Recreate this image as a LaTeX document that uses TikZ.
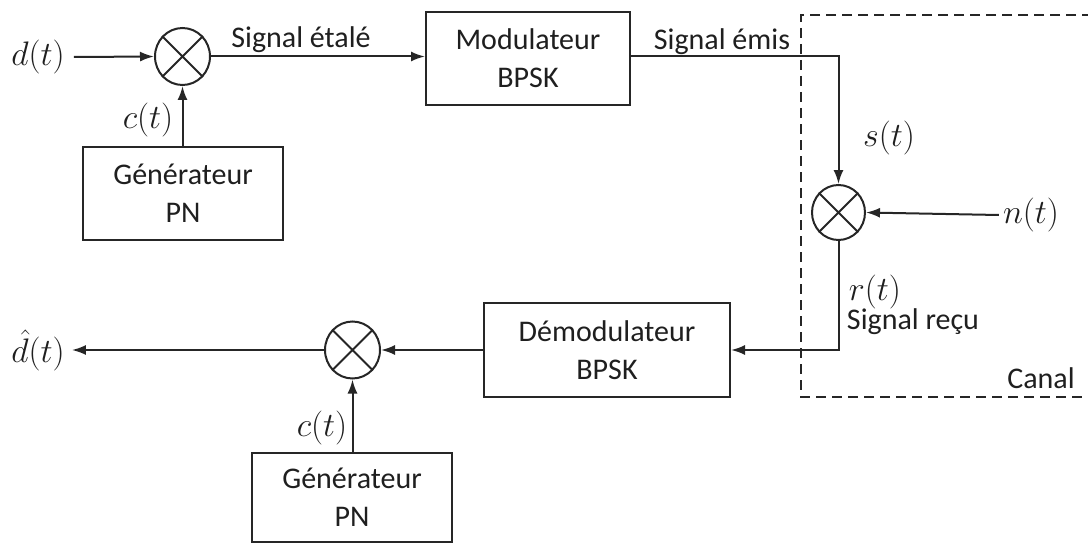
\RequirePackage{fix-cm}
\documentclass[tikz,border=0pt]{standalone}
\usepackage{fontspec}
\setmainfont{Carlito}
\usetikzlibrary{arrows.meta,shapes.geometric}
\begin{document}
\begin{tikzpicture}[x=1pt,y=-1pt,
  every node/.style={font=\fontsize{30}{38}\selectfont, text=black!88},
  wire/.style={line width=2pt, draw=black!85},
  arr/.style={wire, -{Latex[length=14pt,width=10pt]}},
  blk/.style={draw=black!85, line width=2pt, rectangle, inner sep=0pt, align=center},
  mix/.style={draw=black!85, line width=2pt, ellipse, inner sep=0pt, minimum width=55pt, minimum height=57pt},
  lbl/.style={inner sep=0pt},
  mlbl/.style={inner sep=0pt, font=\fontsize{34}{40}\selectfont},
  canal/.style={line width=2pt, draw=black!85, dash pattern=on 10pt off 6pt}
]
\useasboundingbox (0,0) rectangle (1088,543);

% mixers
\node[mix] (m1) at (182.5,56.5) {};
\node[mix, minimum width=53pt, minimum height=55pt] (m2) at (838.5,212.5) {};
\node[mix] (m3) at (352.5,350) {};
\foreach \m in {m1,m2,m3}{
  \draw[line width=1.8pt, draw=black!85] (\m.45) -- (\m.225) (\m.135) -- (\m.315);
}

% blocks
\node[blk, minimum width=204pt, minimum height=93pt] (mod) at (528,58.5) {Modulateur\\BPSK};
\node[blk, minimum width=200pt, minimum height=93pt] (gen1) at (183,193.5) {Générateur\\PN};
\node[blk, minimum width=246pt, minimum height=94pt] (dem) at (607,350) {Démodulateur\\BPSK};
\node[blk, minimum width=200pt, minimum height=89pt] (gen2) at (352,497.5) {Générateur\\PN};

% signal labels
\node[mlbl] (din) at (38,57) {$d(t)$};
\node[mlbl] (dhat) at (38,350) {$\hat{d}(t)$};
\node[mlbl] (nt) at (1031,215) {$n(t)$};
\node[lbl] at (301,40) {Signal étalé};
\node[lbl] at (722,42) {Signal émis};
\node[mlbl] at (889,138) {$s(t)$};
\node[mlbl] at (148,120) {$c(t)$};
\node[mlbl] at (322,428) {$c(t)$};
\node[mlbl] at (875,292) {$r(t)$};
\node[lbl] at (913,322) {Signal reçu};
\node[lbl] at (1041,378) {Canal};

% canal dashed frame
\coordinate (ctl) at (801,15);
\coordinate (cbl) at (801,397);
\coordinate (ctr) at (1092,15);
\coordinate (cbr) at (1092,397);
\draw[canal] (ctr) -- (ctl) -- (cbl) -- (cbr);

% connectors
\draw[arr] ([xshift=9pt]din.east) -- (m1.west);
\draw[arr] (m1.east) -- (m1.east -| mod.west);
\draw[arr] (gen1.north -| m1.south) -- (m1.south);
\draw[arr] (mod.east |- 0,56) -| (m2.north);
\draw[arr] ([xshift=-4pt]nt.west) -- (m2.east);
\draw[arr] (m2.south) |- (dem.east);
\draw[arr] (dem.west) -- (m3.east);
\draw[arr] (gen2.north -| m3.south) -- (m3.south);
\draw[arr] (m3.west) -- ([xshift=7pt]dhat.east);
\end{tikzpicture}
\end{document}
